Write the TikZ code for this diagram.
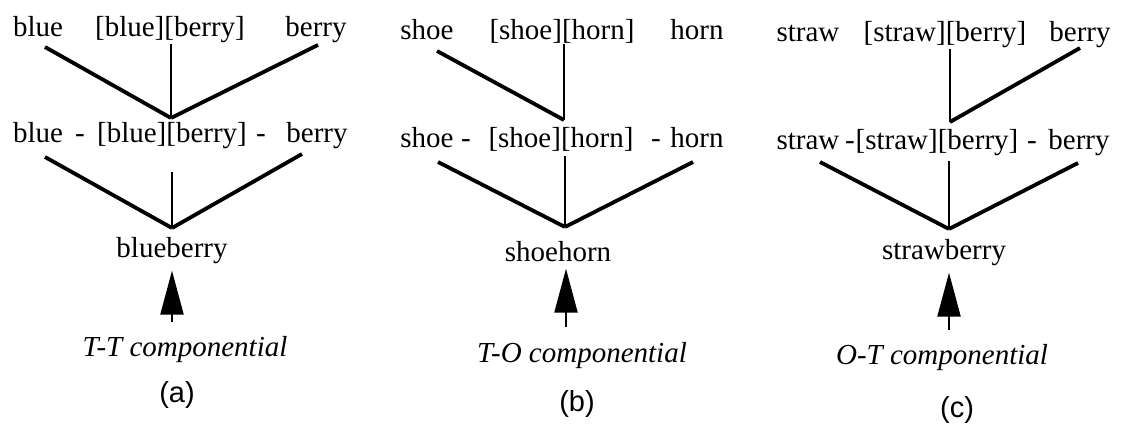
\documentclass[tikz,border=0pt]{standalone}
\usepackage{fontspec}
\setmainfont{Liberation Serif}
\setsansfont{Liberation Sans}
\usetikzlibrary{arrows.meta}

\begin{document}
\begin{tikzpicture}[
    x=0.5pt, y=-0.5pt,
    word/.style={anchor=base, inner sep=0pt, font=\fontsize{14.5}{17}\selectfont},
    kind/.style={word, font=\fontsize{14.5}{17}\selectfont\itshape},
    tag/.style={word, font=\fontsize{14.5}{17}\selectfont\sffamily},
    limb/.style={line width=1.9pt},
    trunk/.style={line width=1.4pt},
    uparrow/.style={line width=1.1pt, -{Triangle[length=22pt,width=11.5pt]}, shorten >=3pt}
]
\useasboundingbox (0,0) rectangle (1124,426);

% (a) blueberry: top row
\node[word] (aL) at (38,37) {blue};
\node[word] (aM) at (170,37) {[blue][berry]};
\node[word] (aR) at (316,37) {berry};
\coordinate (aV1) at (171,118);
\draw[limb] ([shift={(7,10)}]aL.base) -- (aV1);
\draw[limb] ([shift={(2,8)}]aR.base) -- (aV1);
\draw[trunk] (aM.south -| aV1) -- (aV1);

% (a) middle row
\node[word] (aL2) at (38,143) {blue};
\node[word] (aD1) at (80,143) {-};
\node[word] (aM2) at (172,143) {[blue][berry]};
\node[word] (aD2) at (261,143) {-};
\node[word] (aR2) at (317,143) {berry};
\coordinate (aV2) at (172,228);
\draw[limb] ([shift={(7,14)}]aL2.base) -- (aV2);
\draw[limb] ([shift={(-15,11)}]aR2.base) -- (aV2);
\draw[trunk, shorten <=11pt] (aM2.south -| aV2) -- (aV2);

% (a) compound
\node[word] (aW) at (172,258) {blueberry};
\coordinate (aA) at (172,322);
\draw[uparrow] (aA) -- (aA |- aW.south);
\node[kind] (aT) at (185,357) {T-T componential};
\node[tag] (aC) at (177,403) {(a)};

% (b) shoehorn: top row
\node[word] (bL) at (427,40) {shoe};
\node[word] (bM) at (562,40) {[shoe][horn]};
\node[word] (bR) at (697,40) {horn};
\coordinate (bV1) at (564,120);
\draw[limb] ([shift={(10,11)}]bL.base) -- (bV1);
\draw[trunk] (bM.south -| bV1) -- (bV1);

% (b) middle row
\node[word] (bL2) at (427,148) {shoe};
\node[word] (bD1) at (466,148) {-};
\node[word] (bM2) at (561,148) {[shoe][horn]};
\node[word] (bD2) at (656,148) {-};
\node[word] (bR2) at (697,148) {horn};
\coordinate (bV2) at (565,227);
\draw[limb] ([shift={(11,14)}]bL2.base) -- (bV2);
\draw[limb] ([shift={(-4,14)}]bR2.base) -- (bV2);
\draw[trunk, shorten <=2pt] (bM2.south -| bV2) -- (bV2);

% (b) compound
\node[word] (bW) at (558,262) {shoehorn};
\coordinate (bA) at (566,327);
\draw[uparrow] (bA) -- (bA |- bW.south);
\node[kind] (bT) at (582,363) {T-O componential};
\node[tag] (bC) at (577,412) {(b)};

% (c) strawberry: top row
\node[word] (cL) at (808,42) {straw};
\node[word] (cM) at (945,42) {[straw][berry]};
\node[word] (cR) at (1080,42) {berry};
\coordinate (cV1) at (950,122);
\draw[limb] ([shift={(0,6)}]cR.base) -- (cV1);
\draw[trunk] (cM.south -| cV1) -- (cV1);

% (c) middle row
\node[word] (cL2) at (808,150) {straw};
\node[word] (cD1) at (850,150) {-};
\node[word] (cM2) at (937,150) {[straw][berry]};
\node[word] (cD2) at (1032,150) {-};
\node[word] (cR2) at (1079,150) {berry};
\coordinate (cV2) at (949,229);
\draw[limb] ([shift={(12,12)}]cL2.base) -- (cV2);
\draw[limb] ([shift={(-1,13)}]cR2.base) -- (cV2);
\draw[trunk, shorten <=2pt] (cM2.south -| cV2) -- (cV2);

% (c) compound
\node[word] (cW) at (944,260) {strawberry};
\coordinate (cA) at (949,330);
\draw[uparrow] (cA) -- (cA |- cW.south);
\node[kind] (cT) at (942,365) {O-T componential};
\node[tag] (cC) at (957,418) {(c)};

\end{tikzpicture}
\end{document}
